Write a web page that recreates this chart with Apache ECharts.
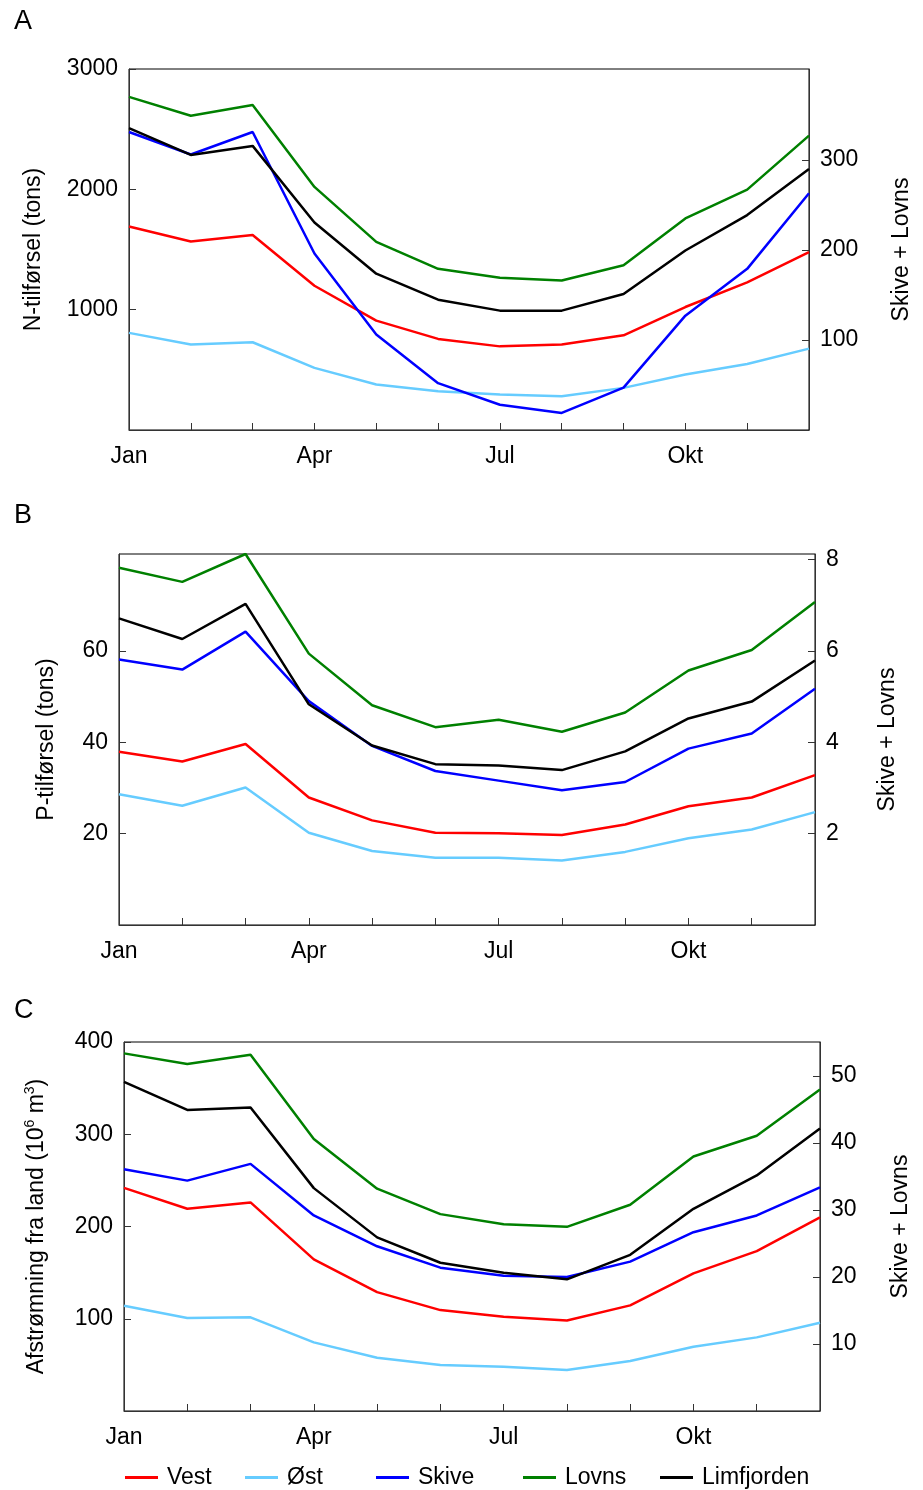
<!DOCTYPE html>
<html>
<head>
<meta charset="utf-8">
<script src="https://cdn.jsdelivr.net/npm/echarts@6/dist/echarts.min.js"></script>
<style>
  html, body { margin: 0; padding: 0; background: #fff; }
  #chart { width: 923px; height: 1490px; }
</style>
</head>
<body>
<div id="chart"></div>
<script>
const months = ['Jan', 'Feb', 'Mar', 'Apr', 'Maj', 'Jun', 'Jul', 'Aug', 'Sep', 'Okt', 'Nov', 'Dec'];
const seriesNames = ['Vest', 'Øst', 'Skive', 'Lovns', 'Limfjorden'];

// A: N-tilførsel (tons); Skive + Lovns on right axis
const nVest = [1691, 1567, 1620, 1199, 909, 757, 695, 710, 787, 1022, 1227, 1479];
const nOst = [807, 710, 729, 516, 378, 322, 295, 280, 350, 461, 549, 676];
const nSkive = [331, 306, 331, 196, 106, 52, 28, 19, 47, 127, 179, 263];
const nLovns = [370, 349, 361, 270, 209, 179, 169, 166, 183, 235, 267, 327];
const nLimfjorden = [2508, 2286, 2361, 1725, 1299, 1083, 992, 992, 1130, 1492, 1786, 2168];

// B: P-tilførsel (tons)
const pVest = [37.9, 35.8, 39.6, 27.9, 22.9, 20.2, 20.1, 19.7, 22.0, 26.0, 27.9, 32.8];
const pOst = [28.6, 26.1, 30.1, 20.2, 16.2, 14.7, 14.7, 14.1, 16.0, 19.0, 20.9, 24.7];
const pSkive = [5.81, 5.59, 6.42, 4.90, 3.92, 3.37, 3.16, 2.95, 3.13, 3.86, 4.19, 5.17];
const pLovns = [7.82, 7.51, 8.12, 5.94, 4.81, 4.33, 4.49, 4.23, 4.65, 5.57, 6.02, 7.07];
const pLimfjorden = [67.1, 62.6, 70.3, 48.3, 39.3, 35.2, 34.9, 33.9, 38.0, 45.2, 48.9, 57.9];

// C: Afstrømning fra land (10^6 m3)
const qVest = [241.9, 219.2, 226.1, 164.4, 128.9, 109.4, 102.2, 98.2, 114.5, 149.2, 173.3, 209.9];
const qOst = [114.1, 100.8, 101.5, 74.4, 57.7, 49.8, 48.0, 44.4, 54.2, 69.7, 79.8, 95.7];
const qSkive = [36.1, 34.4, 36.9, 29.2, 24.6, 21.4, 20.2, 20.0, 22.3, 26.7, 29.2, 33.4];
const qLovns = [53.4, 51.8, 53.2, 40.6, 33.2, 29.4, 27.9, 27.5, 30.8, 38.0, 41.1, 48.0];
const qLimfjorden = [356.8, 326.4, 329, 241.6, 188.2, 160.7, 149.8, 142.7, 169.3, 219.2, 255.4, 306.3];

// tick labels
const nLeftTicks = [1000, 2000, 3000];
const nRightTicks = [100, 200, 300];
const pLeftTicks = [20, 40, 60];
const pRightTicks = [2, 4, 6, 8];
const qLeftTicks = [100, 200, 300, 400];
const qRightTicks = [10, 20, 30, 40, 50];

const colors = { 'Vest': '#ff0000', 'Øst': '#66ccff', 'Skive': '#0000ff', 'Lovns': '#008000', 'Limfjorden': '#000000' };
const FONT = 'Liberation Sans, Arial, Helvetica, sans-serif';
const FS = 23;

const myChart = echarts.init(document.getElementById('chart'), null, { renderer: 'canvas' });

function xAxisFor(gridIndex) {
    return {
        type: 'category',
        gridIndex: gridIndex,
        data: months,
        boundaryGap: false,
        axisLine: { lineStyle: { color: '#333', width: 1 } },
        axisTick: { inside: true, length: 7, interval: 0, lineStyle: { color: '#333' } },
        axisLabel: { interval: 2, color: '#000', fontSize: FS, fontFamily: FONT, margin: 15 },
        splitLine: { show: false },
    };
}

function yAxisFor(gridIndex, position, max, ticks, name, nameGap) {
    return {
        type: 'value',
        gridIndex: gridIndex,
        position: position,
        min: 0,
        max: max,
        name: name,
        nameLocation: 'middle',
        nameGap: nameGap,
        nameTextStyle: { color: '#000', fontSize: FS, fontFamily: FONT },
        axisLine: { show: true, lineStyle: { color: '#333', width: 1 } },
        axisTick: { show: true, inside: true, length: 7, customValues: ticks, lineStyle: { color: '#333' } },
        axisLabel: {
            color: '#000', fontSize: FS, fontFamily: FONT, margin: 11, customValues: ticks,
            formatter: (v) => String(v),
        },
        splitLine: { show: false },
    };
}

function line(name, data, xIdx, yIdx) {
    return {
        name: name,
        type: 'line',
        xAxisIndex: xIdx,
        yAxisIndex: yIdx,
        data: data,
        symbol: 'none',
        showSymbol: false,
        lineStyle: { color: colors[name], width: 2.5 },
        itemStyle: { color: colors[name] },
        animation: false,
    };
}

// legend items are placed one by one, like in the figure
const legendLeft = [120, 240, 371, 518, 655];
const legends = seriesNames.map((n, i) => ({
    data: [n],
    left: legendLeft[i],
    top: 1461,
    icon: 'rect',
    itemWidth: 33,
    itemHeight: 3,
    textStyle: { color: '#000', fontSize: FS, fontFamily: FONT, padding: [0, 0, 0, 4] },
}));

const letterStyle = { fontSize: 27, fontWeight: 'normal', fontFamily: FONT, color: '#000' };

myChart.setOption({
    animation: false,
    title: [
        { text: 'A', left: 9, top: 3, textStyle: letterStyle },
        { text: 'B', left: 9, top: 497, textStyle: letterStyle },
        { text: 'C', left: 9, top: 992, textStyle: letterStyle },
    ],
    legend: legends,
    grid: [
        { left: 129, right: 114, top: 69, height: 361, show: true, borderColor: '#000', borderWidth: 1 },
        { left: 119, right: 108, top: 554, height: 371, show: true, borderColor: '#000', borderWidth: 1 },
        { left: 124, right: 103, top: 1042, height: 369, show: true, borderColor: '#000', borderWidth: 1 },
    ],
    xAxis: [xAxisFor(0), xAxisFor(1), xAxisFor(2)],
    yAxis: [
        yAxisFor(0, 'left', 3000, nLeftTicks, 'N-tilførsel (tons)', 84),
        yAxisFor(0, 'right', 401, nRightTicks, 'Skive + Lovns', 81),
        yAxisFor(1, 'left', 81.2, pLeftTicks, 'P-tilførsel (tons)', 61),
        yAxisFor(1, 'right', 8.12, pRightTicks, 'Skive + Lovns', 61),
        Object.assign(yAxisFor(2, 'left', 400, qLeftTicks, '{a|Afstrømning fra land (10}{s|6}{a| m}{s|3}{a|)}', 73), {
            nameTextStyle: {
                color: '#000', fontSize: FS, fontFamily: FONT,
                rich: {
                    a: { fontSize: FS, fontFamily: FONT, color: '#000', lineHeight: 28 },
                    s: { fontSize: 14, fontFamily: FONT, color: '#000', lineHeight: 28, verticalAlign: 'top', padding: [0, 0, 10, 0] },
                },
            },
        }),
        yAxisFor(2, 'right', 55.1, qRightTicks, 'Skive + Lovns', 69),
    ],
    series: [
        line('Vest', nVest, 0, 0),
        line('Øst', nOst, 0, 0),
        line('Skive', nSkive, 0, 1),
        line('Lovns', nLovns, 0, 1),
        line('Limfjorden', nLimfjorden, 0, 0),

        line('Vest', pVest, 1, 2),
        line('Øst', pOst, 1, 2),
        line('Skive', pSkive, 1, 3),
        line('Lovns', pLovns, 1, 3),
        line('Limfjorden', pLimfjorden, 1, 2),

        line('Vest', qVest, 2, 4),
        line('Øst', qOst, 2, 4),
        line('Skive', qSkive, 2, 5),
        line('Lovns', qLovns, 2, 5),
        line('Limfjorden', qLimfjorden, 2, 4),
    ],
});
</script>
</body>
</html>
